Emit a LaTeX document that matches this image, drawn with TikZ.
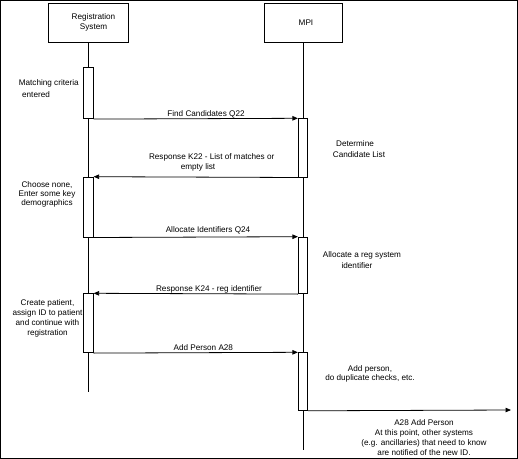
\documentclass[tikz,border=0pt]{standalone}
\usepackage{fontspec}
\setmainfont{Liberation Sans}
\usetikzlibrary{arrows.meta}
\begin{document}
\begin{tikzpicture}[x=1bp,y=-1bp,line width=0.8bp,
  obj/.style={draw,fill=white,inner sep=0pt,align=center,font=\fontsize{8.2}{10}\selectfont},
  act/.style={draw,fill=white,minimum width=9.4bp,inner sep=0pt,anchor=north},
  lbl/.style={inner sep=0pt,align=center,font=\fontsize{8.2}{10}\selectfont},
  msg/.style={-{Triangle[length=5.5bp,width=4.5bp]}}]
\useasboundingbox (0,0) rectangle (518,459);
\draw (0.5,0.5) rectangle (517.5,458.5);
% objects
\node[obj,minimum width=80bp,minimum height=39bp] (reg) at (88.5,22.5) {\hspace*{10bp}Registration\\\hspace*{10bp}System};
\node[obj,minimum width=78bp,minimum height=39bp] (mpi) at (303,22.5) {\hspace*{6bp}MPI};
\coordinate (regEnd) at (88.5,392);
\coordinate (mpiEnd) at (303,450);
\draw (reg.south) -- (regEnd);
\draw (mpi.south) -- (mpiEnd);
% activations
\node[act,minimum height=51.6bp] (a1) at (88.5,66.7) {};
\node[act,minimum height=58.4bp] (m1) at (303,118.3) {};
\node[act,minimum height=60bp] (a2) at (88.5,176.7) {};
\node[act,minimum height=56.6bp] (m2) at (303,236.7) {};
\node[act,minimum height=59bp] (a3) at (88.5,293.3) {};
\node[act,minimum height=57.7bp] (m3) at (303,352.3) {};
\coordinate (out) at (511,410);
% messages
\draw[msg] (a1.south east) -- (m1.north west);
\draw[msg] (m1.south west) -- (a2.north east);
\draw[msg] (a2.south east) -- (m2.north west);
\draw[msg] (m2.south west) -- (a3.north east);
\draw[msg] (a3.south east) -- (m3.north west);
\draw[msg] (m3.south east) -- (out);
% message labels
\node[lbl] (l1) at (206,114) {Find Candidates Q22};
\node[lbl] (l2) at (211.7,162) {Response K22 - List of matches or\\empty list\hspace*{27.4bp}};
\node[lbl] (l3) at (208,230) {Allocate Identifiers Q24};
\node[lbl] (l4) at (209,289) {Response K24 - reg identifier};
\node[lbl] (l5) at (203.3,348) {Add Person A28};
\node[lbl,font=\fontsize{8.2}{9.9}\selectfont] (l6) at (424,437.7) {A28 Add Person\\At this point, other systems\\(e.g. ancillaries) that need to know\\are notified of the new ID.};
% notes
\node[lbl,font=\fontsize{8.2}{12}\selectfont] (n1) at (48.8,88.3) {Matching criteria\\entered\hspace*{25.6bp}};
\node[lbl,font=\fontsize{8.2}{9}\selectfont] (n2) at (47,194.5) {Choose none,\\Enter some key\\demographics};
\node[lbl] (n3) at (47.5,318) {Create patient,\\assign ID to patient\\and continue with\\registration};
\node[lbl,font=\fontsize{8.2}{11}\selectfont] (n4) at (359,148.7) {Determine\hspace*{8bp}\\Candidate List};
\node[lbl,font=\fontsize{8.2}{11.4}\selectfont] (n5) at (362,260) {Allocate a reg system\\identifier\hspace*{10bp}};
\node[lbl,font=\fontsize{8.2}{9.5}\selectfont] (n6) at (370,374) {Add person,\\do duplicate checks, etc.};
\end{tikzpicture}
\end{document}
